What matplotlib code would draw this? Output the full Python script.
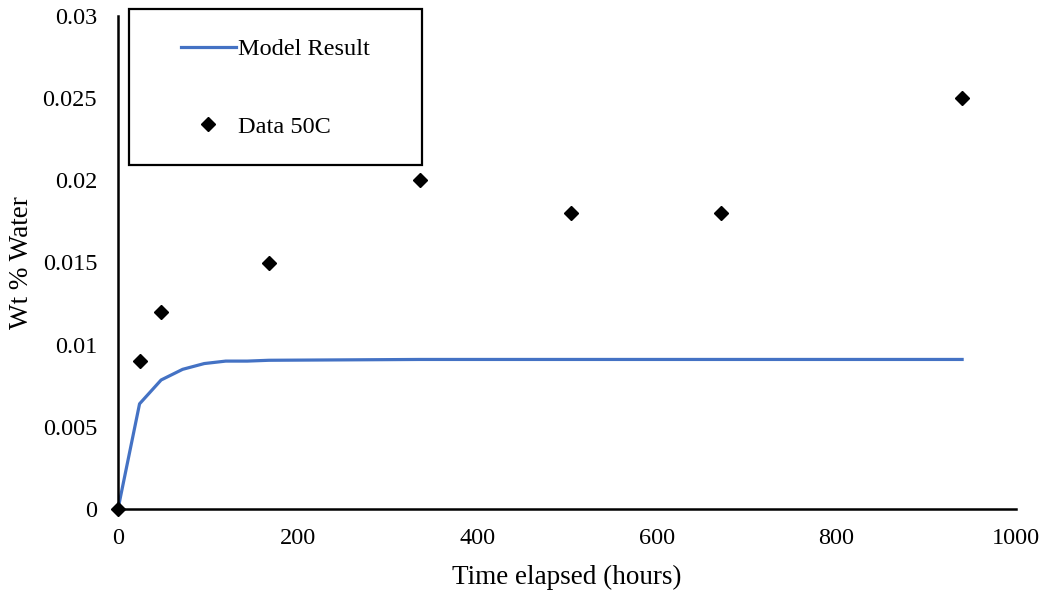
import matplotlib
matplotlib.use("Agg")
import matplotlib.pyplot as plt
from matplotlib.patches import Rectangle

plt.rcParams['font.family'] = ['Liberation Serif', 'DejaVu Serif']

# Model prediction of water uptake (hours, wt %)
model_hours = [0, 24, 48, 72, 96, 120, 144, 168, 336, 504, 672, 940]
model_wt = [0.0, 0.0064, 0.00785, 0.0085, 0.00885, 0.0090, 0.0090, 0.00905,
            0.0091, 0.0091, 0.0091, 0.0091]

# Measured water content at 50C
data_hours = [0, 24, 48, 168, 336, 504, 672, 940]
data_wt = [0.0, 0.009, 0.012, 0.015, 0.020, 0.018, 0.018, 0.025]

x_ticks = [0, 200, 400, 600, 800, 1000]
y_ticks = [0, 0.005, 0.01, 0.015, 0.02, 0.025, 0.03]
y_tick_labels = ['0', '0.005', '0.01', '0.015', '0.02', '0.025', '0.03']

W, H = 1047, 590
fig = plt.figure(figsize=(W / 100, H / 100), dpi=100)
ax = fig.add_axes([118 / W, 1 - 509 / H, (1016 - 118) / W, (509 - 16) / H])

ax.plot(model_hours, model_wt, color='#4472C4', lw=2.3, label='Model Result',
        zorder=2, clip_on=False)
ax.plot(data_hours, data_wt, linestyle='none', marker='D', markersize=7.5,
        color='black', label='Data 50C', zorder=3, clip_on=False)

ax.set_xlim(0, 1000)
ax.set_ylim(0, 0.03)
ax.set_xticks(x_ticks)
ax.set_yticks(y_ticks)
ax.set_yticklabels(y_tick_labels)
ax.tick_params(length=0, labelsize=17.5)
ax.tick_params(axis='x', pad=14)
ax.tick_params(axis='y', pad=15)

for side in ('top', 'right'):
    ax.spines[side].set_visible(False)
for side in ('left', 'bottom'):
    ax.spines[side].set_linewidth(1.8)
    ax.spines[side].set_color('black')

ax.set_xlabel('Time elapsed (hours)', fontsize=19.5, labelpad=11)
ax.set_ylabel('Wt % Water', fontsize=19.5, labelpad=6)

# Legend frame and entries
fig.patches.append(Rectangle((129 / W, 1 - 165 / H), (422 - 129) / W, (165 - 9) / H,
                             transform=fig.transFigure, fill=False,
                             edgecolor='black', linewidth=1.6, zorder=5))
leg = ax.legend(loc='center', bbox_to_anchor=(275.5 / W, 1 - 88 / H),
                bbox_transform=fig.transFigure, frameon=False, fontsize=17.5,
                handlelength=2.26, handletextpad=0.12, labelspacing=2.3,
                borderpad=0)

fig.savefig('out.png', dpi=100)
